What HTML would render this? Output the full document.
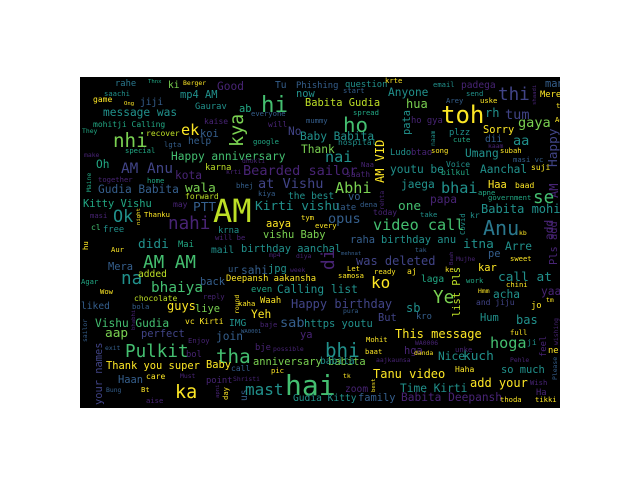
<!DOCTYPE html>
<html><head><meta charset="utf-8"><style>
html,body{margin:0;padding:0;background:#fff;width:640px;height:480px;overflow:hidden}
svg{display:block}
text{font-family:"DejaVu Sans Mono","Liberation Mono",monospace}
</style></head><body>
<svg id="cloud" width="640" height="480" viewBox="0 0 640 480" xmlns="http://www.w3.org/2000/svg">
<defs><clipPath id="clipbox"><rect x="80" y="77" width="480" height="331"/></clipPath></defs>
<rect x="80" y="77" width="480" height="331" fill="#000"/>
<g id="words" clip-path="url(#clipbox)"></g>
</svg>
<script>
const S = 0.8;
const C = {P:"#482475",Q:"#414487",B:"#355f8d",T:"#2a788e",G:"#21918c",H:"#22a884",L:"#44bf70",M:"#7ad151",Y:"#bddf26",Z:"#fde725"};
const words = [
"AM|213|222|40|Y|0","hai|285|395|35|L|0","toh|441|123|30|Z|0","hi|261|112|28|L|0","nhi|113|147|24|M|0",
"kya|243|147|23|M|-90","ho|343|132|26|L|0","thi|498|100|22|Q|0","tha|216|363|24|L|0","bhi|325|357|24|G|0",
"ka|175|398|23|Z|0","Ye|433|303|22|M|0","Anu|483|235|25|T|0","AM AM|143|268|22|L|0",
"rahe|115|86|11|T|0","Thnx|148|83|7|H|0","ki|168|88|12|M|0","Berger|183|85|8|Z|0","Good|217|90|14|P|0",
"Tu|275|88|12|B|0","Phishing|296|88|11|B|0","saachi|104|96|9|G|0","game|93|102|10|Z|0","Ong|124|105|7|Z|0",
"jiji|140|105|12|B|0","mp4 AM|180|98|13|G|0","now|296|97|13|G|0","Gaurav|195|109|11|G|0","ab|239|112|13|H|0",
"everyone|251|116|9|B|0","message was|103|116|14|G|0","Babita Gudia|305|106|13|Y|0","mohitji Calling|93|127|10|H|0",
"kaise|204|124|10|P|0","will|268|127|10|P|0","mummy|306|123|9|B|0","They|82|133|8|H|0","recover|146|136|10|Y|0",
"koi|200|137|13|B|0","ek|181|135|19|Z|0","No|288|135|14|Q|0","Baby Babita|300|140|14|G|0","lgta|164|147|9|B|0",
"help|188|144|12|B|0","google|253|144|9|H|0","make|84|157|8|P|0","special|125|153|9|H|0",
"Happy anniversary|171|160|14|L|0","Thank|301|153|14|M|0","dhokli|242|163|8|P|0","Oh|96|168|14|H|0",
"AM Anu|121|173|18|Q|0","kota|175|179|14|P|0","karna|205|170|11|Y|0","krti|226|174|8|P|0",
"Bearded sailor|243|175|17|P|0","together|98|182|9|P|0","home|147|183|9|H|0","Maine|91|192|8|H|-90",
"Gudia Babita|98|193|14|B|0","wala|185|192|16|M|0","bhej|236|188|9|B|0","at Vishu|258|188|17|Q|0",
"forward|185|199|10|Y|0","kiya|258|196|9|B|0","the best|288|199|12|G|0","Kitty Vishu|83|207|13|H|0",
"may|173|207|10|P|0","PTT|193|211|16|B|0","Kirti vishu|255|210|16|G|0","masi|90|218|9|P|0",
"Ok|113|222|21|G|0","night|140|225|7|Z|-90","Thanku|144|217|9|Z|0","tym|301|220|9|Z|0","nahi|168|229|22|P|0",
"cl|91|230|10|L|0","free|103|232|11|G|0","aaya|266|227|13|Z|0","krna|218|233|11|G|0","vishu Baby|263|238|13|M|0",
"will be|215|240|9|P|0","every|315|228|9|Z|0",
"question|345|87|11|G|0","krte|385|83|9|Z|0","email|433|87|9|G|0","padega|461|88|12|P|0","many|545|87|13|B|0",
"start|343|93|9|B|0","Anyone|388|96|14|G|0","send|466|96|9|G|0","Mere|540|97|11|Z|0","shaadi|536|105|7|P|-90",
"Arey|446|103|9|B|0","uske|480|103|9|Z|0","hua|406|108|15|M|0","pata|410|135|13|G|-90","spread|353|115|9|H|0",
"rh|485|117|15|G|0","tum|505|119|17|Q|0","ho gya|411|123|11|P|0","gaya|518|127|17|M|0","try|556|108|9|Z|0",
"Ae|555|122|9|Z|0","plzz|449|135|11|G|0","Sorry|483|133|13|Z|0","cute|453|142|9|H|0","naam|435|146|8|G|-90",
"hospital|338|145|10|G|0","dii|485|142|12|B|0","kaam|488|148|8|P|0","aa|513|145|17|G|0",
"Happy|557|167|16|Q|-90","AM VID|384|183|15|Z|-90","Ludo|390|155|11|G|0","btao|411|155|11|P|0",
"song|431|153|9|Z|0","Umang|465|157|14|G|0","subah|500|153|9|Z|0","nai|325|162|19|G|0","masi vc|513|162|9|B|0",
"Naa|361|167|9|P|0","Voice|446|167|10|G|0","suji|531|170|10|Z|0","saath|346|177|10|P|0","youtu be|390|173|14|G|0",
"bilkul|441|175|10|H|0","Aanchal|480|173|14|G|0","AM|558|198|15|P|-90","Abhi|335|193|19|M|0",
"rehta|384|210|8|P|-90","jaega|401|188|14|G|0","bhai|441|193|19|G|0","Haa|488|188|13|Z|0","baad|515|188|10|Z|0",
"apne|478|195|9|H|0","vo|348|200|13|B|0","papa|430|203|14|P|0","government|488|200|9|H|0","se|533|203|22|L|0",
"late|335|210|11|B|0","dena|360|207|9|B|0","one|398|210|16|L|0","today|373|215|10|P|0","Babita mohitji|481|213|15|G|0",
"opus|328|223|17|B|0","take|420|217|9|G|0","kr|470|218|10|G|0","Covid|465|235|9|G|-90","video call|373|230|19|L|0",
"kb|519|235|8|Z|0","add|553|240|14|P|-90",
"hu|88|250|9|Z|-90","Aur|111|252|9|Z|0","didi|138|248|16|G|0","Mai|178|247|11|H|0","mail|211|253|12|G|0",
"birthday aanchal|241|252|13|G|0","mp4|269|257|8|P|0","diya|296|258|8|P|0","Mera|108|270|13|B|0","ur|228|272|11|B|0",
"sahi|241|274|14|B|0","jpg|268|272|13|G|0","week|290|272|8|P|0","na|121|284|22|G|0","added|138|277|12|Y|0",
"Agar|81|284|9|H|0","back|200|285|13|B|0","Deepansh aakansha|226|281|11|Z|0","bhaiya|151|292|18|L|0",
"even|251|292|11|H|0","Calling list|277|293|14|G|0","Wow|100|294|9|Z|0","chocolate|134|301|10|Y|0",
"reply|203|299|9|P|0","round|239|314|8|Z|-90","kaha|238|306|9|Z|0","Waah|260|303|11|Z|0","Happy birthday|291|308|15|Q|0",
"liked|81|309|12|B|0","bola|132|309|9|B|0","guys|167|310|15|Z|0","liye|195|312|13|M|0","bhabhi|135|330|7|P|-90",
"Yeh|251|318|14|Z|0","Vishu Gudia|95|327|14|L|0","vc Kirti|185|324|10|Z|0","IMG|229|326|12|G|0","baje|260|327|9|P|0",
"sab|280|327|17|B|0","https youtu|304|327|13|G|0","sailor|87|342|8|B|-90","aap|105|337|16|M|0","perfect|141|337|13|Q|0",
"WA0001|241|333|7|B|0","join|216|340|14|B|0","ya|300|338|13|P|0","Enjoy|188|343|9|P|0","your names|102|405|13|Q|-90",
"exit|105|350|8|B|0","Pulkit|125|357|22|L|0","bol|186|357|11|P|0","bje|255|350|11|P|0","possible|273|351|8|P|0",
"Thank you super|106|369|13|Z|0","Baby|206|368|13|Z|0","call|231|371|10|B|0","anniversary babita|253|365|13|M|0",
"Must|180|378|8|P|0","Haan|118|383|13|B|0","care|146|379|10|Z|0","point|206|383|11|P|0","Shristi|233|381|8|P|0",
"pic|271|373|9|Z|0","Bung|106|392|8|B|0","Bt|141|392|9|Z|0","apni|219|398|7|P|-90","day|228|400|9|Z|-90",
"us|247|401|12|B|-90","mast|245|395|20|G|0","Gudia Kitty|293|401|12|G|0","aise|146|403|9|P|0",
"raha|350|243|13|B|0","birthday anu|381|243|13|G|0","itna|463|248|16|G|0","Arre|505|250|14|G|0","Pls add|557|265|13|P|-90",
"mehnat|341|255|7|B|0","tak|415|252|8|B|0","pe|488|257|13|B|0","was deleted|356|265|15|Q|0","Baah|453|265|7|P|-90",
"Mujhe|456|261|8|P|0","sweet|510|261|9|Z|0","di|334|270|22|P|-90","Let|347|271|9|Z|0","ready|374|274|9|Z|0",
"aj|407|274|10|Z|0","ke|445|272|9|Z|0","kar|478|271|13|Z|0","samosa|338|278|9|Z|0","laga|421|282|12|H|0",
"call at|498|281|16|G|0","list Pls|460|317|13|Y|-90","work|466|283|9|H|0","chini|506|287|9|Z|0","ko|371|288|20|Z|0",
"Hmm|478|293|8|Z|0","acha|493|298|14|G|0","yaar|541|295|14|P|0","tm|546|302|8|Z|0","and jiju|476|305|10|Q|0",
"jo|531|308|11|Z|0","sb|406|312|15|G|0","pura|343|313|8|B|0","But|378|321|13|Q|0","kro|416|319|11|B|0",
"Hum|480|321|13|G|0","bas|516|324|15|G|0","wishing|558|345|8|P|-90","full|510|335|9|Z|0","This message|395|338|15|Z|0",
"Mohit|366|342|9|Z|0","WA0006|415|345|8|P|0","hoga|490|348|19|L|0","ji|527|345|10|G|0","feel|546|357|11|P|-90",
"ne|548|353|11|Z|0","baat|365|354|9|Z|0","hga|404|354|13|P|0","danda|414|355|8|Z|0","unke|455|352|9|P|0",
"Nice|438|360|14|G|0","kuch|463|360|16|G|0","Pehle|510|362|8|P|0","aajkaunsa|376|362|8|P|0","babita|320|364|12|G|0",
"Please|557|380|8|B|-90","Haha|455|372|10|Z|0","so much|501|373|13|G|0","Tanu video|373|378|15|Z|0","tk|343|378|8|Z|0",
"add your|470|387|15|Z|0","Wish|530|385|9|P|0","zoom|345|392|12|P|0","best|375|392|7|Z|-90","Time Kirti|400|392|14|G|0",
"Ha|536|395|11|P|0","family|358|401|13|B|0","Babita Deepansh|401|401|14|P|0","thoda|500|402|9|Z|0","tikki|535|402|9|Z|0"
];
const g = document.getElementById('words');
const NS = "http://www.w3.org/2000/svg";
words.forEach(function(s){
  const p = s.split('|');
  const t = document.createElementNS(NS,'text');
  const x = +p[1], y = +p[2], rot = +p[5];
  t.setAttribute('x', x);
  t.setAttribute('y', y);
  t.setAttribute('font-size', (+p[3]*S).toFixed(1));
  t.setAttribute('fill', C[p[4]]);
  if (rot) t.setAttribute('transform','rotate('+rot+' '+x+' '+y+')');
  t.textContent = p[0];
  
  
  g.appendChild(t);
});
</script>
</body></html>
